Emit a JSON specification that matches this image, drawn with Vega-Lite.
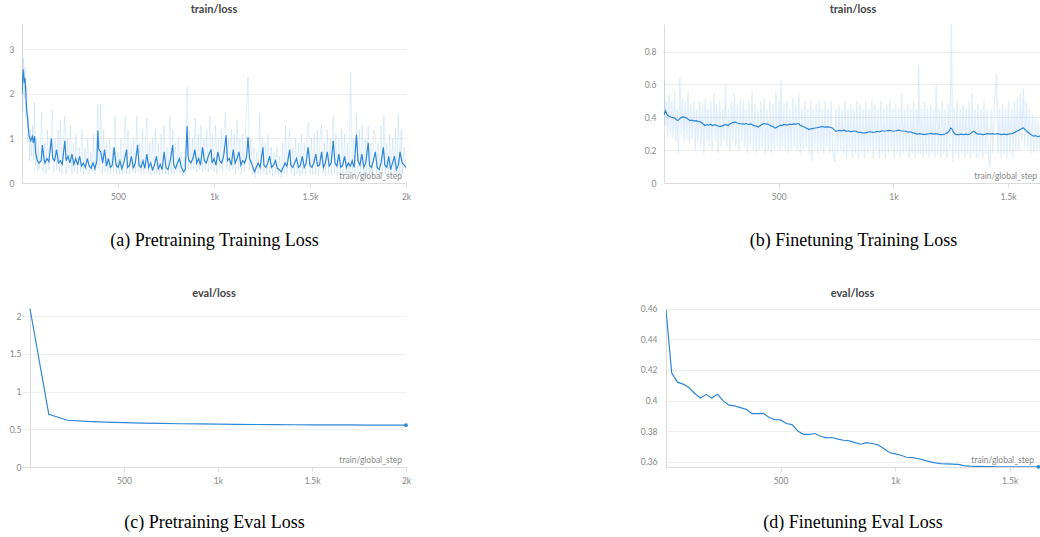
{
"$schema": "https://vega.github.io/schema/vega-lite/v6.json",
"padding": {"left": 9, "top": 4, "right": 0, "bottom": 0},
"config": {
  "view": {"stroke": null},
  "font": "Lato",
  "title": {"fontSize": 11, "fontWeight": "bold", "color": "#444", "offset": 9, "font": "Lato"},
  "axis": {"labelColor": "#888", "labelFontSize": 8.5, "labelFont": "Lato", "domainColor": "#dcdcdc", "tickColor": "#dcdcdc", "gridColor": "#efefef", "labelOverlap": false},
  "axisX": {"labelFlush": false, "grid": false, "tickSize": 4, "labelPadding": 5, "titleFont": "Liberation Serif", "titleFontSize": 18, "titleFontWeight": "normal", "titleColor": "#000", "titlePadding": 31},
  "axisY": {"ticks": false, "grid": true, "labelPadding": 8, "format": "~g"}
},
"datasets": {
"a_r": [{"x":0,"y":3.55},{"x":4,"y":1.6},{"x":8,"y":2.8},{"x":12,"y":1.9},{"x":16,"y":2.6},{"x":20,"y":1.5},{"x":25,"y":2.2},{"x":30,"y":0.9},{"x":35,"y":1.5},{"x":40,"y":0.5},{"x":45,"y":1.2},{"x":50,"y":0.6},{"x":55,"y":1.3},{"x":60,"y":0.5},{"x":64,"y":1.8},{"x":70,"y":0.4},{"x":75,"y":1.0},{"x":80,"y":0.25},{"x":85,"y":0.9},{"x":90,"y":0.3},{"x":95,"y":0.8},{"x":103,"y":1.6},{"x":110,"y":0.25},{"x":118,"y":0.9},{"x":125,"y":0.2},{"x":132,"y":1.2},{"x":140,"y":0.3},{"x":148,"y":0.9},{"x":158,"y":1.65},{"x":165,"y":0.25},{"x":172,"y":1.0},{"x":180,"y":0.3},{"x":188,"y":1.2},{"x":195,"y":0.25},{"x":200,"y":1.4},{"x":208,"y":0.2},{"x":215,"y":0.9},{"x":223,"y":1.5},{"x":230,"y":0.2},{"x":238,"y":1.0},{"x":245,"y":0.3},{"x":252,"y":1.3},{"x":260,"y":0.2},{"x":268,"y":0.9},{"x":275,"y":0.25},{"x":282,"y":1.1},{"x":290,"y":0.2},{"x":298,"y":0.8},{"x":305,"y":0.25},{"x":312,"y":1.2},{"x":320,"y":0.2},{"x":328,"y":0.8},{"x":335,"y":0.25},{"x":342,"y":1.0},{"x":350,"y":0.2},{"x":358,"y":0.7},{"x":365,"y":0.25},{"x":372,"y":1.1},{"x":380,"y":0.2},{"x":388,"y":0.9},{"x":395,"y":1.75},{"x":402,"y":0.3},{"x":410,"y":1.75},{"x":418,"y":0.2},{"x":425,"y":1.2},{"x":432,"y":0.25},{"x":440,"y":0.9},{"x":448,"y":0.2},{"x":455,"y":1.0},{"x":462,"y":0.2},{"x":470,"y":0.8},{"x":478,"y":0.25},{"x":485,"y":1.5},{"x":492,"y":0.2},{"x":500,"y":0.7},{"x":508,"y":0.2},{"x":515,"y":1.0},{"x":522,"y":0.18},{"x":530,"y":0.8},{"x":538,"y":1.5},{"x":545,"y":0.2},{"x":552,"y":1.2},{"x":560,"y":0.2},{"x":568,"y":0.9},{"x":575,"y":0.25},{"x":582,"y":1.0},{"x":590,"y":0.2},{"x":598,"y":1.5},{"x":605,"y":0.25},{"x":612,"y":0.9},{"x":620,"y":0.2},{"x":628,"y":1.2},{"x":635,"y":0.2},{"x":642,"y":0.8},{"x":650,"y":1.45},{"x":658,"y":0.2},{"x":665,"y":0.9},{"x":672,"y":0.18},{"x":680,"y":1.0},{"x":688,"y":0.2},{"x":695,"y":1.2},{"x":702,"y":0.2},{"x":710,"y":0.9},{"x":718,"y":0.18},{"x":725,"y":1.1},{"x":732,"y":0.2},{"x":740,"y":1.3},{"x":748,"y":0.2},{"x":755,"y":0.8},{"x":762,"y":0.18},{"x":770,"y":1.5},{"x":778,"y":0.2},{"x":785,"y":1.2},{"x":792,"y":0.2},{"x":800,"y":0.9},{"x":808,"y":0.25},{"x":815,"y":1.0},{"x":822,"y":0.2},{"x":830,"y":0.7},{"x":838,"y":0.15},{"x":845,"y":0.6},{"x":852,"y":0.2},{"x":860,"y":2.15},{"x":866,"y":0.3},{"x":872,"y":1.2},{"x":880,"y":0.3},{"x":888,"y":1.0},{"x":895,"y":0.3},{"x":902,"y":1.45},{"x":910,"y":0.25},{"x":918,"y":1.1},{"x":925,"y":0.3},{"x":932,"y":1.3},{"x":940,"y":0.25},{"x":948,"y":1.0},{"x":955,"y":0.3},{"x":962,"y":1.2},{"x":970,"y":0.25},{"x":978,"y":1.5},{"x":985,"y":0.3},{"x":992,"y":1.1},{"x":1000,"y":0.25},{"x":1008,"y":1.3},{"x":1015,"y":0.2},{"x":1022,"y":1.0},{"x":1030,"y":0.3},{"x":1038,"y":1.2},{"x":1045,"y":0.25},{"x":1052,"y":1.1},{"x":1060,"y":1.6},{"x":1068,"y":0.3},{"x":1075,"y":1.0},{"x":1082,"y":0.25},{"x":1090,"y":1.2},{"x":1098,"y":0.3},{"x":1105,"y":1.1},{"x":1112,"y":0.2},{"x":1120,"y":1.4},{"x":1128,"y":0.3},{"x":1135,"y":1.0},{"x":1142,"y":0.2},{"x":1150,"y":1.1},{"x":1158,"y":0.25},{"x":1165,"y":1.3},{"x":1177,"y":2.38},{"x":1184,"y":0.3},{"x":1192,"y":1.0},{"x":1200,"y":0.2},{"x":1208,"y":0.8},{"x":1215,"y":0.12},{"x":1222,"y":0.7},{"x":1230,"y":0.2},{"x":1238,"y":1.55},{"x":1245,"y":0.2},{"x":1252,"y":1.0},{"x":1260,"y":0.2},{"x":1268,"y":0.9},{"x":1275,"y":0.18},{"x":1282,"y":1.1},{"x":1290,"y":0.2},{"x":1298,"y":0.8},{"x":1305,"y":0.15},{"x":1312,"y":0.7},{"x":1320,"y":0.2},{"x":1328,"y":0.8},{"x":1335,"y":0.15},{"x":1342,"y":0.6},{"x":1350,"y":0.12},{"x":1358,"y":0.9},{"x":1365,"y":0.2},{"x":1372,"y":1.3},{"x":1380,"y":0.2},{"x":1388,"y":0.9},{"x":1395,"y":1.2},{"x":1402,"y":0.2},{"x":1410,"y":0.8},{"x":1418,"y":0.15},{"x":1425,"y":1.0},{"x":1432,"y":0.2},{"x":1440,"y":0.9},{"x":1448,"y":0.15},{"x":1455,"y":1.1},{"x":1462,"y":0.2},{"x":1470,"y":0.9},{"x":1478,"y":0.15},{"x":1485,"y":1.2},{"x":1492,"y":1.35},{"x":1500,"y":0.2},{"x":1508,"y":1.0},{"x":1515,"y":0.18},{"x":1522,"y":1.1},{"x":1530,"y":0.2},{"x":1538,"y":1.2},{"x":1545,"y":0.15},{"x":1552,"y":1.0},{"x":1560,"y":1.3},{"x":1568,"y":0.2},{"x":1575,"y":0.9},{"x":1582,"y":0.15},{"x":1590,"y":1.2},{"x":1598,"y":0.2},{"x":1605,"y":1.0},{"x":1612,"y":0.18},{"x":1621,"y":1.5},{"x":1628,"y":0.2},{"x":1635,"y":1.1},{"x":1642,"y":0.15},{"x":1650,"y":1.0},{"x":1658,"y":0.2},{"x":1665,"y":1.2},{"x":1672,"y":0.15},{"x":1680,"y":1.1},{"x":1688,"y":0.2},{"x":1695,"y":0.9},{"x":1703,"y":0.18},{"x":1712,"y":2.5},{"x":1720,"y":0.25},{"x":1728,"y":1.0},{"x":1735,"y":0.2},{"x":1742,"y":1.55},{"x":1750,"y":0.2},{"x":1758,"y":1.2},{"x":1765,"y":0.15},{"x":1772,"y":1.3},{"x":1780,"y":0.2},{"x":1788,"y":1.0},{"x":1795,"y":0.15},{"x":1803,"y":1.3},{"x":1810,"y":0.2},{"x":1818,"y":0.9},{"x":1825,"y":0.15},{"x":1832,"y":1.2},{"x":1840,"y":1.1},{"x":1848,"y":0.2},{"x":1855,"y":0.9},{"x":1862,"y":0.15},{"x":1870,"y":1.3},{"x":1878,"y":0.2},{"x":1885,"y":1.5},{"x":1892,"y":0.2},{"x":1900,"y":0.9},{"x":1908,"y":0.15},{"x":1915,"y":1.1},{"x":1922,"y":0.2},{"x":1930,"y":1.0},{"x":1938,"y":0.2},{"x":1945,"y":1.2},{"x":1952,"y":0.15},{"x":1960,"y":1.55},{"x":1968,"y":0.2},{"x":1975,"y":1.2},{"x":1982,"y":0.2},{"x":1990,"y":0.8},{"x":2000,"y":0.3}],
"a_s": [{"x":0,"y":2.0},{"x":3,"y":2.3},{"x":7,"y":2.55},{"x":12,"y":2.25},{"x":16,"y":2.35},{"x":19,"y":2.1},{"x":24,"y":1.65},{"x":31,"y":1.35},{"x":37,"y":1.05},{"x":45,"y":0.95},{"x":54,"y":1.05},{"x":59,"y":0.9},{"x":66,"y":1.05},{"x":71,"y":0.68},{"x":80,"y":0.5},{"x":89,"y":0.45},{"x":100,"y":0.5},{"x":106,"y":0.85},{"x":115,"y":0.53},{"x":120,"y":0.45},{"x":130,"y":0.55},{"x":140,"y":0.48},{"x":153,"y":1.0},{"x":160,"y":0.55},{"x":170,"y":0.5},{"x":180,"y":0.75},{"x":190,"y":0.45},{"x":200,"y":0.5},{"x":210,"y":0.42},{"x":223,"y":0.95},{"x":230,"y":0.5},{"x":240,"y":0.6},{"x":250,"y":0.45},{"x":260,"y":0.65},{"x":270,"y":0.42},{"x":280,"y":0.55},{"x":290,"y":0.4},{"x":300,"y":0.6},{"x":310,"y":0.38},{"x":320,"y":0.45},{"x":330,"y":0.35},{"x":340,"y":0.55},{"x":350,"y":0.38},{"x":360,"y":0.33},{"x":370,"y":0.45},{"x":380,"y":0.32},{"x":390,"y":0.5},{"x":395,"y":1.18},{"x":400,"y":0.75},{"x":410,"y":0.7},{"x":420,"y":0.45},{"x":430,"y":0.75},{"x":440,"y":0.38},{"x":450,"y":0.55},{"x":460,"y":0.35},{"x":470,"y":0.4},{"x":480,"y":0.8},{"x":490,"y":0.4},{"x":500,"y":0.35},{"x":510,"y":0.5},{"x":520,"y":0.32},{"x":530,"y":0.45},{"x":545,"y":0.75},{"x":550,"y":0.35},{"x":560,"y":0.4},{"x":570,"y":0.6},{"x":580,"y":0.33},{"x":590,"y":0.45},{"x":602,"y":0.85},{"x":610,"y":0.4},{"x":620,"y":0.35},{"x":630,"y":0.5},{"x":640,"y":0.33},{"x":650,"y":0.65},{"x":660,"y":0.35},{"x":670,"y":0.45},{"x":680,"y":0.3},{"x":690,"y":0.4},{"x":700,"y":0.6},{"x":710,"y":0.32},{"x":720,"y":0.42},{"x":730,"y":0.3},{"x":740,"y":0.7},{"x":750,"y":0.35},{"x":760,"y":0.3},{"x":770,"y":0.45},{"x":785,"y":0.85},{"x":790,"y":0.4},{"x":800,"y":0.33},{"x":810,"y":0.45},{"x":820,"y":0.55},{"x":830,"y":0.35},{"x":842,"y":0.25},{"x":850,"y":0.3},{"x":860,"y":1.28},{"x":865,"y":0.6},{"x":870,"y":0.5},{"x":880,"y":0.45},{"x":890,"y":0.55},{"x":900,"y":0.75},{"x":910,"y":0.45},{"x":920,"y":0.55},{"x":930,"y":0.4},{"x":940,"y":0.8},{"x":950,"y":0.5},{"x":960,"y":0.45},{"x":970,"y":0.6},{"x":985,"y":0.75},{"x":990,"y":0.45},{"x":1000,"y":0.55},{"x":1010,"y":0.4},{"x":1020,"y":0.7},{"x":1030,"y":0.5},{"x":1040,"y":0.45},{"x":1050,"y":0.6},{"x":1063,"y":1.07},{"x":1070,"y":0.5},{"x":1080,"y":0.55},{"x":1090,"y":0.4},{"x":1100,"y":0.75},{"x":1110,"y":0.45},{"x":1120,"y":0.55},{"x":1130,"y":0.7},{"x":1140,"y":0.4},{"x":1150,"y":0.5},{"x":1160,"y":0.45},{"x":1170,"y":0.6},{"x":1177,"y":1.03},{"x":1185,"y":0.55},{"x":1195,"y":0.45},{"x":1211,"y":0.25},{"x":1220,"y":0.35},{"x":1230,"y":0.45},{"x":1240,"y":0.35},{"x":1255,"y":0.8},{"x":1260,"y":0.4},{"x":1270,"y":0.35},{"x":1280,"y":0.45},{"x":1290,"y":0.6},{"x":1300,"y":0.35},{"x":1310,"y":0.4},{"x":1320,"y":0.5},{"x":1330,"y":0.33},{"x":1340,"y":0.3},{"x":1350,"y":0.25},{"x":1360,"y":0.35},{"x":1370,"y":0.45},{"x":1380,"y":0.38},{"x":1394,"y":0.75},{"x":1400,"y":0.4},{"x":1410,"y":0.35},{"x":1420,"y":0.45},{"x":1430,"y":0.55},{"x":1440,"y":0.35},{"x":1450,"y":0.4},{"x":1460,"y":0.6},{"x":1470,"y":0.35},{"x":1480,"y":0.45},{"x":1490,"y":0.8},{"x":1500,"y":0.4},{"x":1510,"y":0.35},{"x":1520,"y":0.45},{"x":1530,"y":0.65},{"x":1540,"y":0.38},{"x":1550,"y":0.4},{"x":1560,"y":0.7},{"x":1570,"y":0.35},{"x":1580,"y":0.45},{"x":1590,"y":0.7},{"x":1600,"y":0.38},{"x":1610,"y":0.45},{"x":1621,"y":0.95},{"x":1630,"y":0.45},{"x":1640,"y":0.38},{"x":1650,"y":0.65},{"x":1660,"y":0.35},{"x":1670,"y":0.4},{"x":1680,"y":0.6},{"x":1690,"y":0.35},{"x":1700,"y":0.45},{"x":1710,"y":0.38},{"x":1720,"y":0.5},{"x":1730,"y":0.35},{"x":1742,"y":1.08},{"x":1750,"y":0.5},{"x":1760,"y":0.4},{"x":1770,"y":0.65},{"x":1780,"y":0.35},{"x":1790,"y":0.45},{"x":1803,"y":0.9},{"x":1810,"y":0.4},{"x":1820,"y":0.35},{"x":1830,"y":0.5},{"x":1840,"y":0.7},{"x":1850,"y":0.35},{"x":1860,"y":0.3},{"x":1870,"y":0.45},{"x":1882,"y":0.8},{"x":1890,"y":0.4},{"x":1900,"y":0.35},{"x":1910,"y":0.6},{"x":1920,"y":0.3},{"x":1930,"y":0.45},{"x":1940,"y":0.6},{"x":1950,"y":0.3},{"x":1960,"y":0.4},{"x":1969,"y":0.7},{"x":1980,"y":0.45},{"x":1990,"y":0.4},{"x":2000,"y":0.35}],
"b_r": [{"x":0,"y":0.63},{"x":5,"y":0.35},{"x":10,"y":0.5},{"x":16,"y":0.28},{"x":22,"y":0.55},{"x":28,"y":0.3},{"x":34,"y":0.5},{"x":40,"y":0.27},{"x":46,"y":0.56},{"x":52,"y":0.25},{"x":58,"y":0.45},{"x":63,"y":0.18},{"x":69,"y":0.64},{"x":75,"y":0.3},{"x":81,"y":0.52},{"x":87,"y":0.25},{"x":93,"y":0.5},{"x":99,"y":0.27},{"x":105,"y":0.55},{"x":111,"y":0.24},{"x":117,"y":0.48},{"x":123,"y":0.27},{"x":130,"y":0.5},{"x":136,"y":0.2},{"x":142,"y":0.45},{"x":148,"y":0.25},{"x":155,"y":0.5},{"x":161,"y":0.22},{"x":168,"y":0.48},{"x":174,"y":0.18},{"x":180,"y":0.52},{"x":186,"y":0.25},{"x":192,"y":0.45},{"x":198,"y":0.22},{"x":204,"y":0.5},{"x":210,"y":0.2},{"x":218,"y":0.55},{"x":224,"y":0.25},{"x":230,"y":0.48},{"x":236,"y":0.18},{"x":243,"y":0.5},{"x":249,"y":0.22},{"x":256,"y":0.45},{"x":262,"y":0.25},{"x":268,"y":0.6},{"x":274,"y":0.22},{"x":281,"y":0.45},{"x":287,"y":0.2},{"x":294,"y":0.5},{"x":300,"y":0.25},{"x":307,"y":0.55},{"x":313,"y":0.22},{"x":320,"y":0.48},{"x":326,"y":0.2},{"x":333,"y":0.52},{"x":339,"y":0.25},{"x":346,"y":0.5},{"x":352,"y":0.22},{"x":358,"y":0.45},{"x":364,"y":0.18},{"x":371,"y":0.5},{"x":377,"y":0.22},{"x":384,"y":0.55},{"x":390,"y":0.2},{"x":397,"y":0.48},{"x":403,"y":0.18},{"x":410,"y":0.45},{"x":416,"y":0.2},{"x":423,"y":0.5},{"x":429,"y":0.22},{"x":436,"y":0.52},{"x":442,"y":0.18},{"x":449,"y":0.45},{"x":455,"y":0.2},{"x":462,"y":0.5},{"x":468,"y":0.18},{"x":475,"y":0.48},{"x":481,"y":0.2},{"x":488,"y":0.55},{"x":494,"y":0.22},{"x":501,"y":0.5},{"x":507,"y":0.2},{"x":510,"y":0.63},{"x":516,"y":0.22},{"x":523,"y":0.48},{"x":529,"y":0.2},{"x":536,"y":0.5},{"x":542,"y":0.18},{"x":549,"y":0.45},{"x":555,"y":0.2},{"x":562,"y":0.52},{"x":568,"y":0.22},{"x":575,"y":0.48},{"x":581,"y":0.2},{"x":588,"y":0.55},{"x":594,"y":0.18},{"x":601,"y":0.45},{"x":607,"y":0.2},{"x":614,"y":0.5},{"x":620,"y":0.22},{"x":627,"y":0.45},{"x":633,"y":0.18},{"x":640,"y":0.5},{"x":644,"y":0.13},{"x":651,"y":0.45},{"x":657,"y":0.2},{"x":664,"y":0.48},{"x":670,"y":0.18},{"x":677,"y":0.5},{"x":683,"y":0.2},{"x":690,"y":0.45},{"x":696,"y":0.18},{"x":703,"y":0.5},{"x":709,"y":0.22},{"x":716,"y":0.45},{"x":722,"y":0.18},{"x":729,"y":0.5},{"x":735,"y":0.2},{"x":744,"y":0.13},{"x":750,"y":0.45},{"x":757,"y":0.18},{"x":763,"y":0.48},{"x":770,"y":0.2},{"x":776,"y":0.45},{"x":783,"y":0.18},{"x":789,"y":0.5},{"x":796,"y":0.15},{"x":802,"y":0.45},{"x":809,"y":0.2},{"x":815,"y":0.48},{"x":822,"y":0.15},{"x":828,"y":0.45},{"x":835,"y":0.18},{"x":841,"y":0.5},{"x":848,"y":0.15},{"x":854,"y":0.48},{"x":861,"y":0.18},{"x":867,"y":0.45},{"x":874,"y":0.15},{"x":880,"y":0.5},{"x":887,"y":0.18},{"x":893,"y":0.45},{"x":900,"y":0.2},{"x":906,"y":0.5},{"x":913,"y":0.15},{"x":919,"y":0.48},{"x":926,"y":0.2},{"x":932,"y":0.45},{"x":939,"y":0.15},{"x":945,"y":0.5},{"x":952,"y":0.18},{"x":958,"y":0.45},{"x":965,"y":0.15},{"x":971,"y":0.48},{"x":978,"y":0.18},{"x":984,"y":0.5},{"x":991,"y":0.2},{"x":997,"y":0.45},{"x":1004,"y":0.15},{"x":1010,"y":0.48},{"x":1017,"y":0.18},{"x":1023,"y":0.45},{"x":1030,"y":0.15},{"x":1036,"y":0.55},{"x":1043,"y":0.18},{"x":1049,"y":0.45},{"x":1056,"y":0.2},{"x":1062,"y":0.48},{"x":1069,"y":0.15},{"x":1075,"y":0.45},{"x":1082,"y":0.18},{"x":1088,"y":0.5},{"x":1095,"y":0.15},{"x":1101,"y":0.45},{"x":1108,"y":0.18},{"x":1110,"y":0.72},{"x":1117,"y":0.18},{"x":1123,"y":0.45},{"x":1130,"y":0.15},{"x":1136,"y":0.5},{"x":1143,"y":0.18},{"x":1149,"y":0.45},{"x":1156,"y":0.15},{"x":1162,"y":0.48},{"x":1169,"y":0.18},{"x":1175,"y":0.45},{"x":1181,"y":0.15},{"x":1187,"y":0.6},{"x":1194,"y":0.18},{"x":1200,"y":0.45},{"x":1207,"y":0.15},{"x":1213,"y":0.5},{"x":1220,"y":0.18},{"x":1226,"y":0.45},{"x":1233,"y":0.15},{"x":1239,"y":0.48},{"x":1246,"y":0.2},{"x":1253,"y":0.97},{"x":1259,"y":0.13},{"x":1265,"y":0.45},{"x":1272,"y":0.18},{"x":1278,"y":0.5},{"x":1285,"y":0.15},{"x":1291,"y":0.45},{"x":1298,"y":0.18},{"x":1304,"y":0.48},{"x":1311,"y":0.15},{"x":1317,"y":0.45},{"x":1324,"y":0.18},{"x":1330,"y":0.5},{"x":1337,"y":0.15},{"x":1343,"y":0.55},{"x":1350,"y":0.18},{"x":1356,"y":0.45},{"x":1363,"y":0.15},{"x":1369,"y":0.48},{"x":1376,"y":0.18},{"x":1382,"y":0.45},{"x":1389,"y":0.15},{"x":1395,"y":0.5},{"x":1402,"y":0.18},{"x":1408,"y":0.45},{"x":1415,"y":0.15},{"x":1421,"y":0.1},{"x":1428,"y":0.45},{"x":1434,"y":0.18},{"x":1441,"y":0.5},{"x":1450,"y":0.66},{"x":1456,"y":0.18},{"x":1463,"y":0.45},{"x":1469,"y":0.15},{"x":1476,"y":0.48},{"x":1482,"y":0.18},{"x":1489,"y":0.45},{"x":1495,"y":0.15},{"x":1502,"y":0.5},{"x":1508,"y":0.18},{"x":1515,"y":0.45},{"x":1521,"y":0.15},{"x":1528,"y":0.5},{"x":1534,"y":0.2},{"x":1541,"y":0.52},{"x":1547,"y":0.2},{"x":1554,"y":0.55},{"x":1560,"y":0.25},{"x":1567,"y":0.58},{"x":1573,"y":0.22},{"x":1580,"y":0.5},{"x":1586,"y":0.2},{"x":1593,"y":0.45},{"x":1599,"y":0.18},{"x":1606,"y":0.42},{"x":1612,"y":0.18},{"x":1619,"y":0.4},{"x":1625,"y":0.2},{"x":1632,"y":0.38},{"x":1638,"y":0.2},{"x":1645,"y":0.35},{"x":1650,"y":0.25}],
"b_s": [{"x":0,"y":0.415},{"x":6,"y":0.44},{"x":12,"y":0.42},{"x":18,"y":0.41},{"x":25,"y":0.405},{"x":32,"y":0.4},{"x":40,"y":0.398},{"x":47,"y":0.395},{"x":54,"y":0.385},{"x":61,"y":0.38},{"x":68,"y":0.39},{"x":76,"y":0.4},{"x":84,"y":0.402},{"x":91,"y":0.4},{"x":98,"y":0.395},{"x":105,"y":0.388},{"x":113,"y":0.38},{"x":120,"y":0.383},{"x":130,"y":0.378},{"x":140,"y":0.38},{"x":149,"y":0.375},{"x":158,"y":0.372},{"x":166,"y":0.365},{"x":172,"y":0.358},{"x":178,"y":0.35},{"x":186,"y":0.355},{"x":195,"y":0.352},{"x":203,"y":0.358},{"x":212,"y":0.35},{"x":222,"y":0.355},{"x":230,"y":0.35},{"x":240,"y":0.345},{"x":251,"y":0.345},{"x":260,"y":0.352},{"x":270,"y":0.355},{"x":280,"y":0.35},{"x":290,"y":0.362},{"x":300,"y":0.368},{"x":310,"y":0.37},{"x":320,"y":0.365},{"x":330,"y":0.362},{"x":340,"y":0.36},{"x":350,"y":0.358},{"x":360,"y":0.362},{"x":368,"y":0.355},{"x":378,"y":0.36},{"x":388,"y":0.352},{"x":397,"y":0.348},{"x":405,"y":0.345},{"x":412,"y":0.34},{"x":420,"y":0.35},{"x":428,"y":0.357},{"x":435,"y":0.362},{"x":442,"y":0.36},{"x":450,"y":0.358},{"x":458,"y":0.355},{"x":466,"y":0.348},{"x":474,"y":0.345},{"x":480,"y":0.338},{"x":485,"y":0.335},{"x":492,"y":0.34},{"x":500,"y":0.345},{"x":508,"y":0.352},{"x":515,"y":0.35},{"x":522,"y":0.355},{"x":529,"y":0.355},{"x":538,"y":0.352},{"x":546,"y":0.358},{"x":555,"y":0.355},{"x":565,"y":0.36},{"x":575,"y":0.358},{"x":583,"y":0.362},{"x":588,"y":0.36},{"x":595,"y":0.35},{"x":605,"y":0.345},{"x":615,"y":0.338},{"x":624,"y":0.332},{"x":632,"y":0.325},{"x":640,"y":0.33},{"x":650,"y":0.332},{"x":660,"y":0.335},{"x":670,"y":0.338},{"x":680,"y":0.34},{"x":690,"y":0.345},{"x":700,"y":0.34},{"x":710,"y":0.342},{"x":720,"y":0.34},{"x":728,"y":0.338},{"x":734,"y":0.335},{"x":741,"y":0.325},{"x":749,"y":0.315},{"x":758,"y":0.318},{"x":766,"y":0.32},{"x":775,"y":0.318},{"x":785,"y":0.322},{"x":795,"y":0.315},{"x":805,"y":0.318},{"x":815,"y":0.312},{"x":825,"y":0.316},{"x":836,"y":0.315},{"x":845,"y":0.31},{"x":855,"y":0.308},{"x":866,"y":0.305},{"x":880,"y":0.305},{"x":890,"y":0.31},{"x":900,"y":0.312},{"x":910,"y":0.308},{"x":920,"y":0.31},{"x":930,"y":0.315},{"x":940,"y":0.312},{"x":950,"y":0.318},{"x":960,"y":0.315},{"x":970,"y":0.318},{"x":982,"y":0.32},{"x":992,"y":0.318},{"x":1002,"y":0.315},{"x":1012,"y":0.318},{"x":1022,"y":0.322},{"x":1032,"y":0.318},{"x":1045,"y":0.315},{"x":1056,"y":0.315},{"x":1065,"y":0.31},{"x":1075,"y":0.312},{"x":1085,"y":0.305},{"x":1095,"y":0.302},{"x":1105,"y":0.298},{"x":1115,"y":0.3},{"x":1125,"y":0.297},{"x":1135,"y":0.295},{"x":1145,"y":0.298},{"x":1155,"y":0.3},{"x":1165,"y":0.302},{"x":1175,"y":0.298},{"x":1185,"y":0.3},{"x":1195,"y":0.297},{"x":1205,"y":0.295},{"x":1216,"y":0.295},{"x":1225,"y":0.298},{"x":1235,"y":0.305},{"x":1245,"y":0.32},{"x":1250,"y":0.335},{"x":1255,"y":0.33},{"x":1262,"y":0.31},{"x":1268,"y":0.3},{"x":1275,"y":0.295},{"x":1285,"y":0.295},{"x":1295,"y":0.298},{"x":1305,"y":0.295},{"x":1315,"y":0.297},{"x":1325,"y":0.295},{"x":1333,"y":0.298},{"x":1340,"y":0.305},{"x":1348,"y":0.315},{"x":1355,"y":0.31},{"x":1362,"y":0.302},{"x":1370,"y":0.298},{"x":1380,"y":0.297},{"x":1392,"y":0.295},{"x":1402,"y":0.298},{"x":1412,"y":0.3},{"x":1422,"y":0.298},{"x":1432,"y":0.3},{"x":1442,"y":0.297},{"x":1452,"y":0.3},{"x":1462,"y":0.298},{"x":1472,"y":0.295},{"x":1482,"y":0.297},{"x":1494,"y":0.295},{"x":1502,"y":0.298},{"x":1512,"y":0.3},{"x":1522,"y":0.302},{"x":1532,"y":0.31},{"x":1542,"y":0.318},{"x":1552,"y":0.325},{"x":1560,"y":0.333},{"x":1567,"y":0.335},{"x":1575,"y":0.325},{"x":1585,"y":0.31},{"x":1595,"y":0.3},{"x":1605,"y":0.29},{"x":1611,"y":0.285},{"x":1620,"y":0.288},{"x":1630,"y":0.282},{"x":1640,"y":0.285},{"x":1650,"y":0.283}],
"c": [{"x":0,"y":2.1},{"x":100,"y":0.7},{"x":200,"y":0.62},{"x":300,"y":0.605},{"x":400,"y":0.595},{"x":500,"y":0.588},{"x":600,"y":0.583},{"x":700,"y":0.578},{"x":800,"y":0.574},{"x":900,"y":0.571},{"x":1000,"y":0.568},{"x":1100,"y":0.566},{"x":1200,"y":0.564},{"x":1300,"y":0.562},{"x":1400,"y":0.561},{"x":1500,"y":0.56},{"x":1600,"y":0.559},{"x":1700,"y":0.558},{"x":1800,"y":0.557},{"x":1900,"y":0.556},{"x":2000,"y":0.555}],
"d": [{"x":0,"y":0.4593},{"x":25,"y":0.418},{"x":50,"y":0.412},{"x":75,"y":0.4107},{"x":100,"y":0.4085},{"x":125,"y":0.4046},{"x":150,"y":0.4017},{"x":175,"y":0.4039},{"x":200,"y":0.4017},{"x":225,"y":0.4041},{"x":250,"y":0.3998},{"x":275,"y":0.397},{"x":300,"y":0.3965},{"x":325,"y":0.3954},{"x":350,"y":0.3943},{"x":375,"y":0.3915},{"x":400,"y":0.3915},{"x":425,"y":0.3917},{"x":450,"y":0.3889},{"x":475,"y":0.3876},{"x":500,"y":0.3874},{"x":525,"y":0.385},{"x":550,"y":0.3843},{"x":575,"y":0.3802},{"x":600,"y":0.378},{"x":625,"y":0.378},{"x":650,"y":0.3785},{"x":675,"y":0.3767},{"x":700,"y":0.3757},{"x":725,"y":0.3759},{"x":750,"y":0.3748},{"x":775,"y":0.3741},{"x":800,"y":0.3737},{"x":825,"y":0.3726},{"x":850,"y":0.3715},{"x":875,"y":0.3726},{"x":900,"y":0.372},{"x":925,"y":0.3711},{"x":950,"y":0.3687},{"x":975,"y":0.3661},{"x":1000,"y":0.3652},{"x":1025,"y":0.3643},{"x":1050,"y":0.363},{"x":1075,"y":0.3628},{"x":1100,"y":0.3622},{"x":1125,"y":0.3611},{"x":1150,"y":0.3602},{"x":1175,"y":0.3593},{"x":1200,"y":0.3589},{"x":1225,"y":0.3587},{"x":1250,"y":0.3585},{"x":1275,"y":0.3583},{"x":1300,"y":0.3576},{"x":1325,"y":0.3572},{"x":1350,"y":0.357},{"x":1375,"y":0.357},{"x":1400,"y":0.3569},{"x":1425,"y":0.3569},{"x":1450,"y":0.3568},{"x":1475,"y":0.3568},{"x":1500,"y":0.3568},{"x":1525,"y":0.3568},{"x":1550,"y":0.3568},{"x":1575,"y":0.3568},{"x":1600,"y":0.3568},{"x":1625,"y":0.3568}]
},
"spacing": 37,
"vconcat": [
{
  "spacing": 233,
  "hconcat": [
    {
      "width": 384, "height": 159,
      "title": "train/loss",
      "layer": [
        {"data": {"name": "a_r"}, "mark": {"type": "line", "color": "#3a8fdc", "opacity": 0.14, "strokeWidth": 1, "clip": true},
         "encoding": {
           "x": {"field": "x", "type": "quantitative", "scale": {"domain": [0, 2000], "nice": false, "zero": false}, "axis": {"values": [500, 1000, 1500, 2000], "labelExpr": "datum.value >= 1000 ? (datum.value/1000) + 'k' : datum.label", "title": "(a) Pretraining Training Loss"}},
           "y": {"field": "y", "type": "quantitative", "scale": {"domain": [0, 3.57], "nice": false}, "axis": {"values": [0, 1, 2, 3], "title": null}}}},
        {"data": {"name": "a_s"}, "mark": {"type": "line", "color": "#2f87d8", "strokeWidth": 1.2, "clip": true},
         "encoding": {
           "x": {"field": "x", "type": "quantitative", "scale": {"domain": [0, 2000], "nice": false, "zero": false}, "axis": {"values": [500, 1000, 1500, 2000], "labelExpr": "datum.value >= 1000 ? (datum.value/1000) + 'k' : datum.label", "title": "(a) Pretraining Training Loss"}},
           "y": {"field": "y", "type": "quantitative", "scale": {"domain": [0, 3.57], "nice": false}, "axis": {"values": [0, 1, 2, 3], "title": null}}}},
        {"data": {"values": [{"label": "train/global_step"}]}, "mark": {"type": "text", "align": "right", "baseline": "bottom", "dx": -4, "dy": -2, "color": "#888", "fontSize": 8.5},
         "encoding": {
           "x": {"datum": 2000, "type": "quantitative", "scale": {"domain": [0, 2000], "nice": false, "zero": false}, "axis": {"values": [500, 1000, 1500, 2000], "labelExpr": "datum.value >= 1000 ? (datum.value/1000) + 'k' : datum.label", "title": "(a) Pretraining Training Loss"}},
           "y": {"datum": 0, "type": "quantitative", "scale": {"domain": [0, 3.57], "nice": false}, "axis": {"values": [0, 1, 2, 3], "title": null}},
           "text": {"field": "label"}}}
      ]
    },
    {
      "width": 378, "height": 159,
      "title": "train/loss",
      "layer": [
        {"data": {"name": "b_r"}, "mark": {"type": "line", "color": "#3a8fdc", "opacity": 0.15, "strokeWidth": 1.3, "clip": true},
         "encoding": {
           "x": {"field": "x", "type": "quantitative", "scale": {"domain": [0, 1648], "nice": false, "zero": false}, "axis": {"values": [500, 1000, 1500], "labelExpr": "datum.value >= 1000 ? (datum.value/1000) + 'k' : datum.label", "title": "(b) Finetuning Training Loss"}},
           "y": {"field": "y", "type": "quantitative", "scale": {"domain": [0, 0.968], "nice": false}, "axis": {"values": [0, 0.2, 0.4, 0.6, 0.8], "title": null}}}},
        {"data": {"name": "b_s"}, "mark": {"type": "line", "color": "#2f87d8", "strokeWidth": 1.2, "clip": true},
         "encoding": {
           "x": {"field": "x", "type": "quantitative", "scale": {"domain": [0, 1648], "nice": false, "zero": false}, "axis": {"values": [500, 1000, 1500], "labelExpr": "datum.value >= 1000 ? (datum.value/1000) + 'k' : datum.label", "title": "(b) Finetuning Training Loss"}},
           "y": {"field": "y", "type": "quantitative", "scale": {"domain": [0, 0.968], "nice": false}, "axis": {"values": [0, 0.2, 0.4, 0.6, 0.8], "title": null}}}},
        {"data": {"values": [{"label": "train/global_step"}]}, "mark": {"type": "text", "align": "right", "baseline": "bottom", "dx": -5, "dy": -2, "color": "#888", "fontSize": 8.5},
         "encoding": {
           "x": {"datum": 1648, "type": "quantitative", "scale": {"domain": [0, 1648], "nice": false, "zero": false}, "axis": {"values": [500, 1000, 1500], "labelExpr": "datum.value >= 1000 ? (datum.value/1000) + 'k' : datum.label", "title": "(b) Finetuning Training Loss"}},
           "y": {"datum": 0, "type": "quantitative", "scale": {"domain": [0, 0.968], "nice": false}, "axis": {"values": [0, 0.2, 0.4, 0.6, 0.8], "title": null}},
           "text": {"field": "label"}}}
      ]
    }
  ]
},
{
  "spacing": 229,
  "hconcat": [
    {
      "width": 384, "height": 159,
      "title": "eval/loss",
      "layer": [
        {"data": {"name": "c"}, "mark": {"type": "line", "color": "#2f87d8", "strokeWidth": 1.2, "clip": true},
         "encoding": {
           "x": {"field": "x", "type": "quantitative", "scale": {"domain": [-42.55, 2000], "nice": false, "zero": false}, "axis": {"values": [500, 1000, 1500, 2000], "labelExpr": "datum.value >= 1000 ? (datum.value/1000) + 'k' : datum.label", "title": "(c) Pretraining Eval Loss", "titlePadding": 29}},
           "y": {"field": "y", "type": "quantitative", "scale": {"domain": [0, 2.11], "nice": false}, "axis": {"values": [0, 0.5, 1, 1.5, 2], "title": null, "labelPadding": 9, "offset": -8}}}},
        {"data": {"name": "c"}, "transform": [{"filter": "datum.x == 2000"}], "mark": {"type": "point", "filled": true, "color": "#2f87d8", "size": 14, "opacity": 1},
         "encoding": {
           "x": {"field": "x", "type": "quantitative", "scale": {"domain": [-42.55, 2000], "nice": false, "zero": false}, "axis": {"values": [500, 1000, 1500, 2000], "labelExpr": "datum.value >= 1000 ? (datum.value/1000) + 'k' : datum.label", "title": "(c) Pretraining Eval Loss", "titlePadding": 29}},
           "y": {"field": "y", "type": "quantitative", "scale": {"domain": [0, 2.11], "nice": false}, "axis": {"values": [0, 0.5, 1, 1.5, 2], "title": null, "labelPadding": 9, "offset": -8}}}},
        {"data": {"values": [{"label": "train/global_step"}]}, "mark": {"type": "text", "align": "right", "baseline": "bottom", "dx": -4, "dy": -2, "color": "#888", "fontSize": 8.5},
         "encoding": {
           "x": {"datum": 2000, "type": "quantitative", "scale": {"domain": [-42.55, 2000], "nice": false, "zero": false}, "axis": {"values": [500, 1000, 1500, 2000], "labelExpr": "datum.value >= 1000 ? (datum.value/1000) + 'k' : datum.label", "title": "(c) Pretraining Eval Loss", "titlePadding": 29}},
           "y": {"datum": 0, "type": "quantitative", "scale": {"domain": [0, 2.11], "nice": false}, "axis": {"values": [0, 0.5, 1, 1.5, 2], "title": null, "labelPadding": 9, "offset": -8}},
           "text": {"field": "label"}}}
      ]
    },
    {
      "width": 373, "height": 159,
      "title": {"text": "eval/loss", "offset": 6},
      "layer": [
        {"data": {"name": "d"}, "mark": {"type": "line", "color": "#2f87d8", "strokeWidth": 1.2, "clip": true},
         "encoding": {
           "x": {"field": "x", "type": "quantitative", "scale": {"domain": [0, 1628], "nice": false, "zero": false}, "axis": {"values": [500, 1000, 1500], "labelExpr": "datum.value >= 1000 ? (datum.value/1000) + 'k' : datum.label", "title": "(d) Finetuning Eval Loss", "titlePadding": 29}},
           "y": {"field": "y", "type": "quantitative", "scale": {"domain": [0.35665, 0.4604], "nice": false, "zero": false}, "axis": {"values": [0.36, 0.38, 0.4, 0.42, 0.44, 0.46], "title": null, "labelPadding": 9}}}},
        {"data": {"name": "d"}, "transform": [{"filter": "datum.x == 1625"}], "mark": {"type": "point", "filled": true, "color": "#2f87d8", "size": 14, "opacity": 1},
         "encoding": {
           "x": {"field": "x", "type": "quantitative", "scale": {"domain": [0, 1628], "nice": false, "zero": false}, "axis": {"values": [500, 1000, 1500], "labelExpr": "datum.value >= 1000 ? (datum.value/1000) + 'k' : datum.label", "title": "(d) Finetuning Eval Loss", "titlePadding": 29}},
           "y": {"field": "y", "type": "quantitative", "scale": {"domain": [0.35665, 0.4604], "nice": false, "zero": false}, "axis": {"values": [0.36, 0.38, 0.4, 0.42, 0.44, 0.46], "title": null, "labelPadding": 9}}}},
        {"data": {"values": [{"label": "train/global_step"}]}, "mark": {"type": "text", "align": "right", "baseline": "bottom", "dx": -5, "dy": -2, "color": "#888", "fontSize": 8.5},
         "encoding": {
           "x": {"datum": 1628, "type": "quantitative", "scale": {"domain": [0, 1628], "nice": false, "zero": false}, "axis": {"values": [500, 1000, 1500], "labelExpr": "datum.value >= 1000 ? (datum.value/1000) + 'k' : datum.label", "title": "(d) Finetuning Eval Loss", "titlePadding": 29}},
           "y": {"datum": 0.35665, "type": "quantitative", "scale": {"domain": [0.35665, 0.4604], "nice": false, "zero": false}, "axis": {"values": [0.36, 0.38, 0.4, 0.42, 0.44, 0.46], "title": null, "labelPadding": 9}},
           "text": {"field": "label"}}}
      ]
    }
  ]
}
]
}
